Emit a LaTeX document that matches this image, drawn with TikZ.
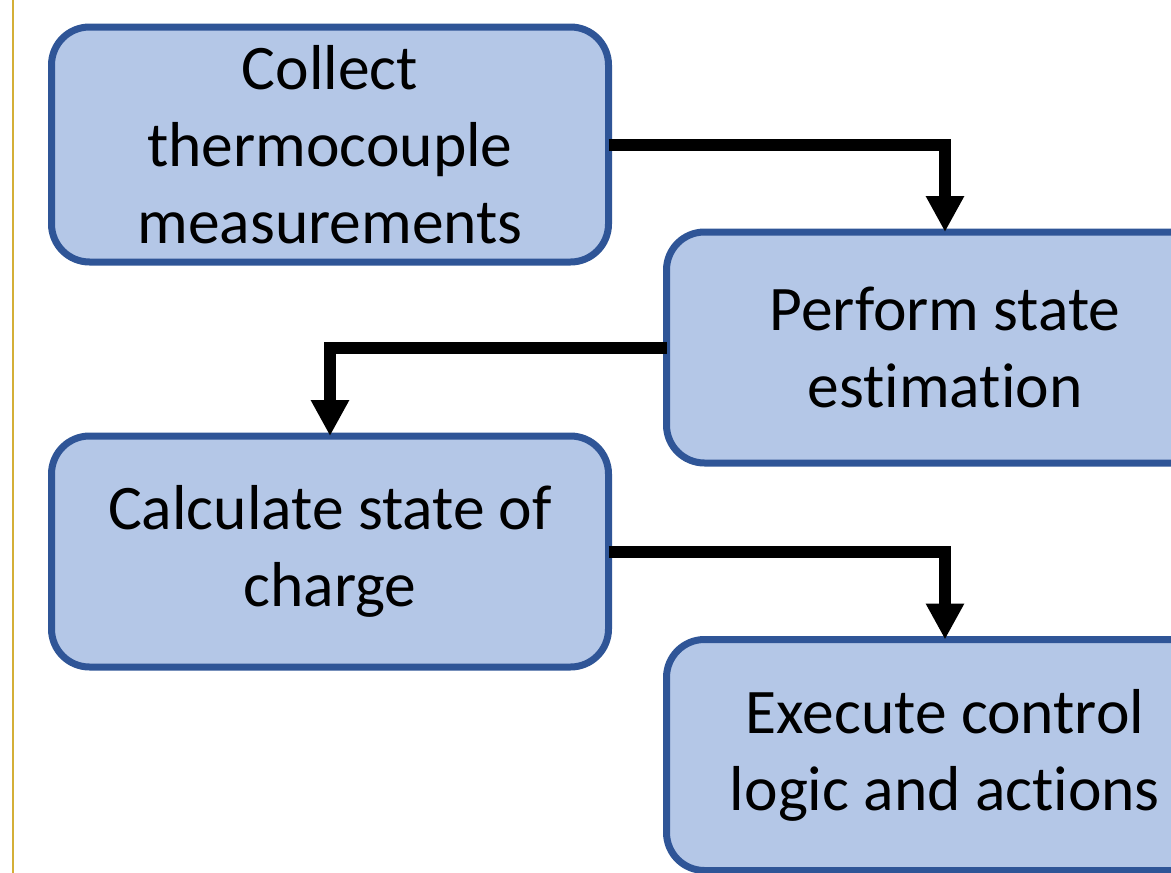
\documentclass[tikz,border=0pt]{standalone}
\usepackage{fontspec}
\setmainfont{Carlito}[Ligatures={NoCommon}]
\usetikzlibrary{arrows.meta}
\definecolor{boxfill}{HTML}{B4C7E7}
\definecolor{boxline}{HTML}{2F5597}
\definecolor{goldline}{RGB}{212,175,55}
\tikzset{
  stepbox/.style={draw=boxline, fill=boxfill, line width=7pt, rounded corners=38pt,
    minimum width=557pt, outer sep=0pt, inner sep=0pt, align=center,
    font=\fontsize{63.5}{77}\selectfont},
  flow/.style={line width=12pt, -{Triangle[width=36pt,length=36pt]}}
}
\begin{document}
\begin{tikzpicture}[x=1pt,y=-1pt]
\useasboundingbox (0,0) rectangle (1171,873);
\clip (0,0) rectangle (1171,873);
\fill[white] (0,0) rectangle (1171,873);
\draw[goldline, line width=2pt] (12.5,0) -- (12.5,873);
\node[stepbox, minimum height=235pt, text depth=0pt] (b1) at (330,144.5) {Collect\\thermocouple\\measurements};
\node[stepbox, minimum height=231pt] (b2) at (945,347.5) {Perform state\\estimation};
\node[stepbox, minimum height=231pt] (b3) at (330,551.5) {Calculate state of\\charge};
\node[stepbox, minimum height=231pt] (b4) at (945,755) {Execute control\\logic and actions};
\draw[flow] (b1.east) -| (b2.north);
\draw[flow] (b2.west) -| (b3.north);
\draw[flow] (b3.east) -| (b4.north);
\end{tikzpicture}
\end{document}
